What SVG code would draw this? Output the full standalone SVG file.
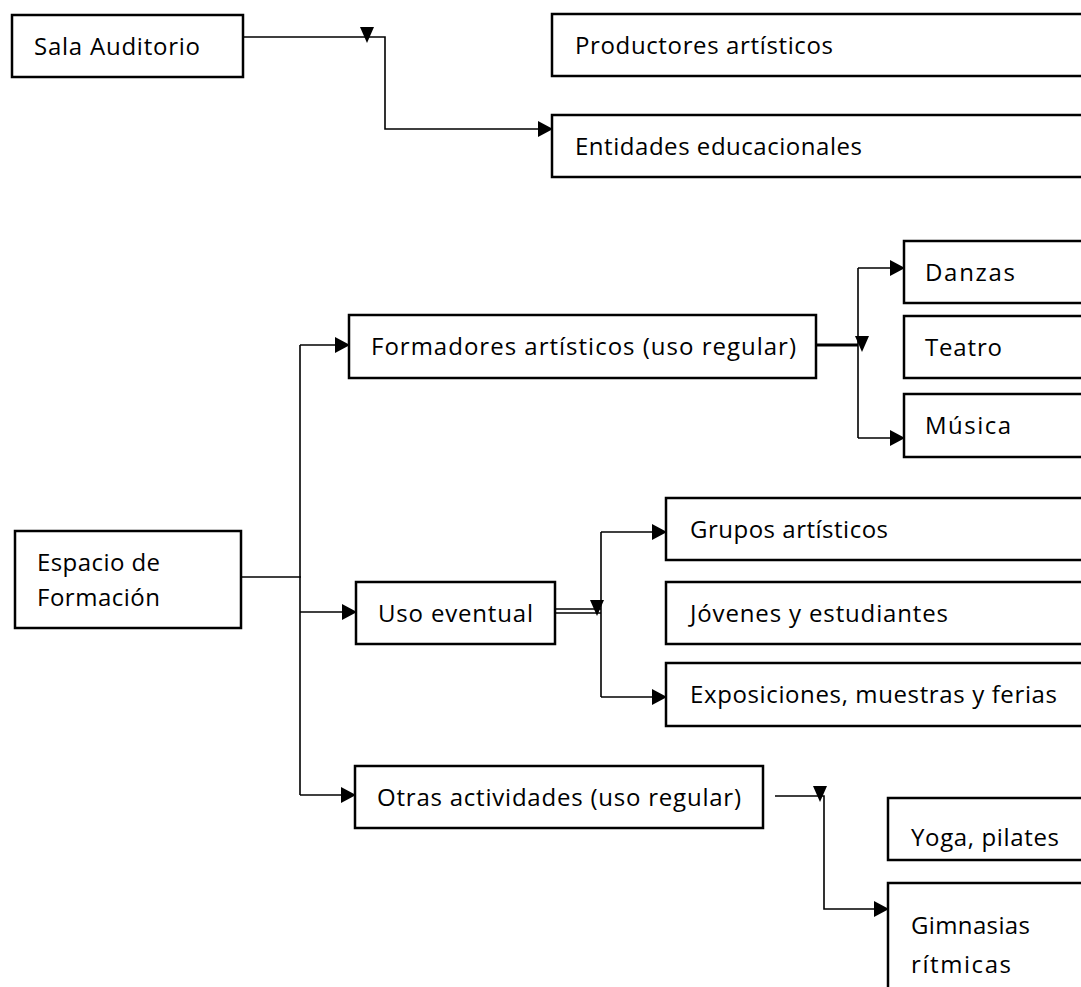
<svg xmlns="http://www.w3.org/2000/svg" xmlns:xlink="http://www.w3.org/1999/xlink" width="1081" height="987" viewBox="0 0 1081 987">
  <style>
    .box { fill: #ffffff; stroke: #000000; stroke-width: 2.5; }
    .lbl { font-family: "Open Sans", Lato, "Liberation Sans", sans-serif; font-size: 24px; fill: #000000; font-variant-ligatures: none; }
    .wire { fill: none; stroke: #000000; stroke-width: 1.6; }
    .thick { fill: none; stroke: #000000; stroke-width: 3; }
  </style>
  <defs>
    <marker id="arrow" markerUnits="userSpaceOnUse" markerWidth="16" markerHeight="18" refX="14" refY="9" orient="auto">
      <path d="M0,1 L15,9 L0,17 Z" fill="#000000"/>
    </marker>
    <!-- small downward triangle placed on branch junctions -->
    <path id="tri-down" d="M-7,0 L7,0 L0,16 Z" fill="#000000"/>
  </defs>

  <rect width="1081" height="987" fill="#ffffff"/>

  <!-- connectors -->
  <g id="connectors">
    <!-- Sala Auditorio -> Entidades educacionales -->
    <path class="wire" d="M240,37 H385 V129 H552" marker-end="url(#arrow)"/>
    <use xlink:href="#tri-down" x="367" y="27"/>

    <!-- Espacio de Formación trunk -->
    <path class="wire" d="M240,577 H301"/>
    <path class="wire" d="M300,345 V795"/>
    <path class="wire" d="M300,345 H349" marker-end="url(#arrow)"/>
    <path class="wire" d="M300,612 H356" marker-end="url(#arrow)"/>
    <path class="wire" d="M300,795 H355" marker-end="url(#arrow)"/>

    <!-- Formadores artísticos branches -->
    <path class="thick" d="M816,345 H858"/>
    <path class="wire" d="M858,268 V438"/>
    <path class="wire" d="M858,268 H904" marker-end="url(#arrow)"/>
    <path class="wire" d="M858,438 H904" marker-end="url(#arrow)"/>
    <use xlink:href="#tri-down" x="862" y="336"/>

    <!-- Uso eventual branches -->
    <path class="wire" d="M555,609 H601 M555,613 H601"/>
    <path class="wire" d="M601,532 V697"/>
    <path class="wire" d="M601,532 H666" marker-end="url(#arrow)"/>
    <path class="wire" d="M601,697 H666" marker-end="url(#arrow)"/>
    <use xlink:href="#tri-down" x="597" y="600"/>

    <!-- Otras actividades branch -->
    <path class="wire" d="M775,796 H824 V909 H888" marker-end="url(#arrow)"/>
    <use xlink:href="#tri-down" x="820" y="786"/>
  </g>

  <g id="sala-auditorio">
    <rect class="box" x="12" y="15" width="231" height="62"/>
    <text class="lbl" x="34" y="55" textLength="166">Sala Auditorio</text>
  </g>
  <g id="productores-artisticos">
    <rect class="box" x="552" y="14" width="560" height="62"/>
    <text class="lbl" x="575" y="54" textLength="258">Productores artísticos</text>
  </g>
  <g id="entidades-educacionales">
    <rect class="box" x="552" y="115" width="560" height="62"/>
    <text class="lbl" x="575" y="155" textLength="287">Entidades educacionales</text>
  </g>

  <g id="espacio-formacion">
    <rect class="box" x="15" y="531" width="226" height="97"/>
    <text class="lbl" x="37" y="571" textLength="123">Espacio de</text>
    <text class="lbl" x="37" y="606" textLength="123">Formación</text>
  </g>

  <g id="formadores-artisticos">
    <rect class="box" x="349" y="315" width="467" height="63"/>
    <text class="lbl" x="371" y="355" textLength="425">Formadores artísticos (uso regular)</text>
  </g>
  <g id="danzas">
    <rect class="box" x="904" y="241" width="200" height="62"/>
    <text class="lbl" x="925" y="281" textLength="90">Danzas</text>
  </g>
  <g id="teatro">
    <rect class="box" x="904" y="316" width="200" height="62"/>
    <text class="lbl" x="925" y="356" textLength="77">Teatro</text>
  </g>
  <g id="musica">
    <rect class="box" x="904" y="394" width="200" height="63"/>
    <text class="lbl" x="925" y="434" textLength="86">Música</text>
  </g>

  <g id="uso-eventual">
    <rect class="box" x="356" y="582" width="199" height="62"/>
    <text class="lbl" x="378" y="622" textLength="155">Uso eventual</text>
  </g>
  <g id="grupos-artisticos">
    <rect class="box" x="666" y="498" width="440" height="62"/>
    <text class="lbl" x="690" y="538" textLength="198">Grupos artísticos</text>
  </g>
  <g id="jovenes-estudiantes">
    <rect class="box" x="666" y="582" width="440" height="62"/>
    <text class="lbl" x="690" y="622" textLength="258">Jóvenes y estudiantes</text>
  </g>
  <g id="exposiciones">
    <rect class="box" x="666" y="663" width="440" height="63"/>
    <text class="lbl" x="690" y="703" textLength="367">Exposiciones, muestras y ferias</text>
  </g>

  <g id="otras-actividades">
    <rect class="box" x="355" y="766" width="408" height="62"/>
    <text class="lbl" x="377" y="806" textLength="364">Otras actividades (uso regular)</text>
  </g>
  <g id="yoga-pilates">
    <rect class="box" x="888" y="798" width="220" height="62"/>
    <text class="lbl" x="911" y="846" textLength="148">Yoga, pilates</text>
  </g>
  <g id="gimnasias-ritmicas">
    <rect class="box" x="888" y="883" width="220" height="130"/>
    <text class="lbl" x="911" y="934" textLength="119">Gimnasias</text>
    <text class="lbl" x="911" y="973" textLength="100">rítmicas</text>
  </g>
</svg>
